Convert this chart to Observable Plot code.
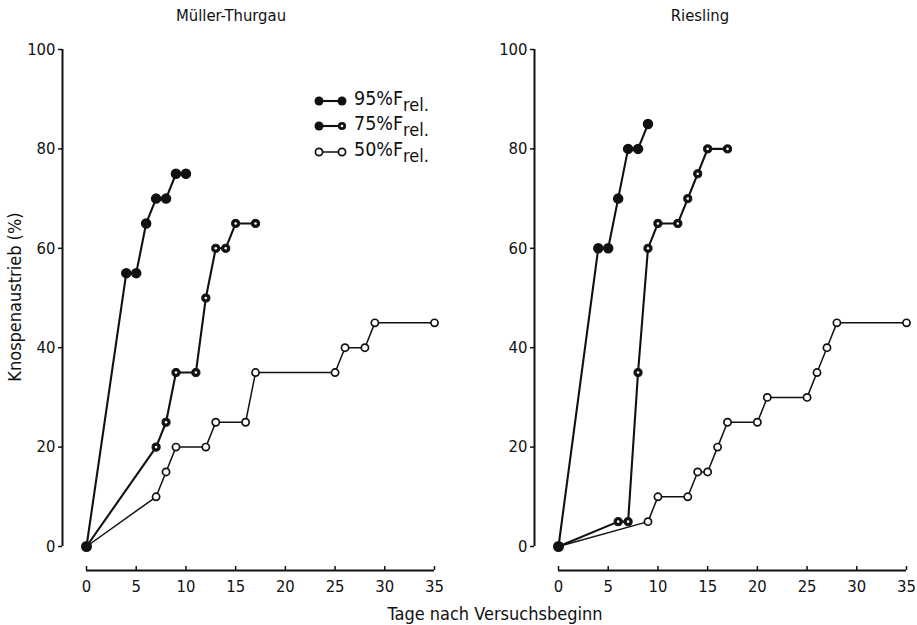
<!DOCTYPE html>
<html><head><meta charset="utf-8">
<script src="https://cdn.jsdelivr.net/npm/d3@7"></script>
<script src="https://cdn.jsdelivr.net/npm/@observablehq/plot@0.6"></script>
<style>
body{margin:0;background:#fff;}
#wrap{position:relative;width:917px;height:625px;overflow:hidden;background:#fff;font-family:"DejaVu Sans Condensed","DejaVu Sans",sans-serif;font-stretch:condensed;color:#111;}
.panel{position:absolute;top:0;}
.title{position:absolute;top:6px;font-size:16.5px;transform:translateX(-50%);white-space:nowrap;}
.ylab{position:absolute;left:14px;top:297px;font-size:18px;transform:translate(-50%,-50%) rotate(-90deg);white-space:nowrap;}
.xlab{position:absolute;left:495px;top:603px;font-size:18px;transform:translateX(-50%);white-space:nowrap;}
.legend{position:absolute;left:314px;top:88px;font-size:19.5px;}
.legend .row{display:flex;align-items:center;height:25.5px;}
.legend sub{font-size:18px;vertical-align:-6px;}
.legend svg{margin-right:6px;}
</style></head>
<body><div id="wrap"></div>
<script>
// ---- data ----
const xTicks = [0,5,10,15,20,25,30,35];
const yTicks = [0,20,40,60,80,100];
const panelTitles = ["Müller-Thurgau","Riesling"];
const seriesNames = ["95%F","75%F","50%F"];
const subLabel = "rel.";
const xLabel = "Tage nach Versuchsbeginn";
const yLabel = "Knospenaustrieb (%)";

// Müller-Thurgau
const mtDays95 = [0,4,5,6,7,8,9,10];
const mtVals95 = [0,55,55,65,70,70,75,75];
const mtDays75 = [0,7,8,9,11,12,13,14,15,17];
const mtVals75 = [0,20,25,35,35,50,60,60,65,65];
const mtDays50 = [0,7,8,9,12,13,16,17,25,26,28,29,35];
const mtVals50 = [0,10,15,20,20,25,25,35,35,40,40,45,45];
// Riesling
const riDays95 = [0,4,5,6,7,8,9];
const riVals95 = [0,60,60,70,80,80,85];
const riDays75 = [0,6,7,8,9,10,12,13,14,15,17];
const riVals75 = [0,5,5,35,60,65,65,70,75,80,80];
const riDays50 = [0,9,10,13,14,15,16,17,20,21,25,26,27,28,35];
const riVals50 = [0,5,10,10,15,15,20,25,25,30,30,35,40,45,45];

const toRows = (days, vals) => days.map((d,i) => ({day:d, value:vals[i]}));
const ink = "#111";

function makePanel(r95, r50, r75, marginLeft, width) {
  const origin = [r95[0]];
  return Plot.plot({
    width, height: 625,
    marginLeft, marginRight: width - marginLeft - 348, marginTop: 49, marginBottom: 79,
    x: {domain:[0,35], axis:null},
    y: {domain:[0,100], axis:null},
    style: {fontFamily:'"DejaVu Sans Condensed","DejaVu Sans",sans-serif', fontSize:"16.5px", color:ink, background:"transparent", fontStretch:"condensed"},
    marks: [
      Plot.ruleX([0], {dx:-24, stroke:ink, strokeWidth:2}),
      Plot.ruleY([0], {dy:24, stroke:ink, strokeWidth:2}),
      Plot.axisY({ticks:yTicks, dx:-24, tickSize:4, tickPadding:3, stroke:ink, fill:ink, strokeWidth:1.5, label:null, fontSize:16.5}),
      Plot.axisX({ticks:xTicks, dy:24, tickSize:-4, tickPadding:14, stroke:ink, fill:ink, strokeWidth:1.5, label:null, fontSize:16.5}),
      Plot.line(r50, {x:"day", y:"value", stroke:ink, strokeWidth:1.5}),
      Plot.line(r75, {x:"day", y:"value", stroke:ink, strokeWidth:2.1}),
      Plot.line(r95, {x:"day", y:"value", stroke:ink, strokeWidth:2.1}),
      Plot.dot(r50.slice(1), {x:"day", y:"value", r:3.6, fill:"white", stroke:ink, strokeWidth:1.7}),
      Plot.dot(r75.slice(1), {x:"day", y:"value", r:4.1, fill:ink, stroke:ink, strokeWidth:1}),
      Plot.dot(r75.slice(1), {x:"day", y:"value", r:1.3, fill:"white"}),
      Plot.dot(r95.slice(1), {x:"day", y:"value", r:4.5, fill:ink, stroke:ink}),
      Plot.dot(origin, {x:"day", y:"value", r:5.5, fill:ink})
    ]
  });
}

const wrap = document.getElementById("wrap");
const left = makePanel(toRows(mtDays95, mtVals95), toRows(mtDays50, mtVals50), toRows(mtDays75, mtVals75), 86, 458);
left.classList.add("panel"); left.style.left = "0px";
const right = makePanel(toRows(riDays95, riVals95), toRows(riDays50, riVals50), toRows(riDays75, riVals75), 100, 459);
right.classList.add("panel"); right.style.left = "458px";
wrap.appendChild(left); wrap.appendChild(right);

const titlePos = [231, 700];
panelTitles.forEach((t,i) => {
  const d = document.createElement("div");
  d.className = "title"; d.textContent = t; d.style.left = titlePos[i] + "px";
  wrap.appendChild(d);
});
const yl = document.createElement("div"); yl.className = "ylab"; yl.textContent = yLabel; wrap.appendChild(yl);
const xl = document.createElement("div"); xl.className = "xlab"; xl.textContent = xLabel; wrap.appendChild(xl);

// legend
const legend = document.createElement("div"); legend.className = "legend";
const swatch = [
  `<circle cx="5" cy="6" r="4.5" fill="${ink}"/><circle cx="28" cy="6" r="4.5" fill="${ink}"/>`,
  `<circle cx="5" cy="6" r="4.5" fill="${ink}"/><circle cx="28" cy="6" r="4.1" fill="${ink}"/><circle cx="28" cy="6" r="1.3" fill="white"/>`,
  `<circle cx="5" cy="6" r="3.6" fill="white" stroke="${ink}" stroke-width="1.7"/><circle cx="28" cy="6" r="3.6" fill="white" stroke="${ink}" stroke-width="1.7"/>`
];
const swW = [2.1, 2.1, 1.5];
seriesNames.forEach((name,i) => {
  const row = document.createElement("div"); row.className = "row";
  row.innerHTML = `<svg width="34" height="12"><line x1="5" x2="28" y1="6" y2="6" stroke="${ink}" stroke-width="${swW[i]}"/>${swatch[i]}</svg><span>${name}<sub>${subLabel}</sub></span>`;
  legend.appendChild(row);
});
wrap.appendChild(legend);
</script></body></html>
